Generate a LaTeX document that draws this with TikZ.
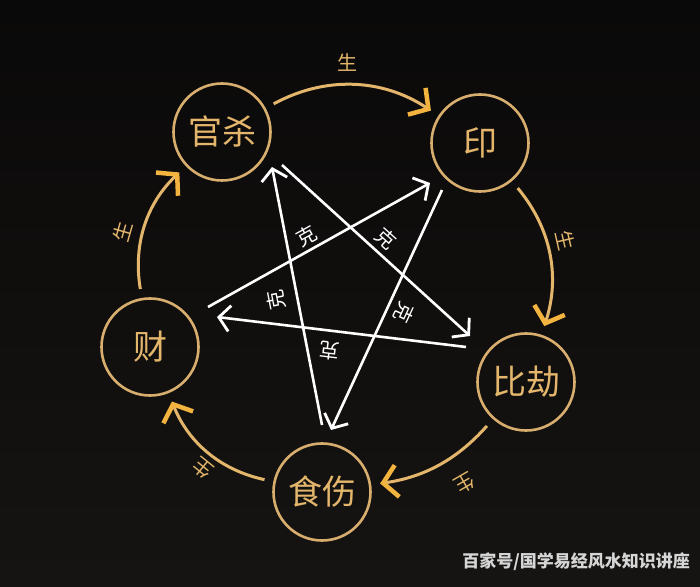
\documentclass[tikz,border=0pt]{standalone}
\usepackage{fontspec}
\setmainfont{Noto Sans CJK SC}
\usetikzlibrary{arrows.meta}
\definecolor{bgtop}{HTML}{0A0909}
\definecolor{bgbot}{HTML}{161412}
\definecolor{ring}{HTML}{D8AE6E}
\definecolor{gold}{HTML}{E3B66C}
\definecolor{tipgold}{HTML}{F2B43E}
\definecolor{wmgray}{HTML}{D6D6D6}
\begin{document}
\begin{tikzpicture}[x=1pt,y=1pt,
  elem/.style={circle, draw=ring, line width=2.6pt, minimum size=97pt, inner sep=0pt, text=gold, font=\fontsize{34}{34}\selectfont},
  sheng/.style={draw=gold, line width=3pt, shorten <=9pt, shorten >=9pt, -{Straight Barb[length=14pt,width=32pt,line width=4.5pt,color=tipgold]}},
  shenglbl/.style={text=gold, font=\fontsize{20}{20}\selectfont, inner sep=0pt},
  ke/.style={draw=white, line width=2.6pt, -{Straight Barb[length=11pt,width=26pt,line width=2.8pt]}},
  kelbl/.style={text=white, font=\fontsize{20}{20}\selectfont, inner sep=0pt},
]
\useasboundingbox (0,0) rectangle (700,586);
\shade[top color=bgtop, bottom color=bgbot] (0,0) rectangle (700,586);

% elements
\node[elem] (gs) at (222,454) {官杀};
\node[elem] (yin) at (480,443) {印};
\node[elem] (bj) at (526,204) {比劫};
\node[elem] (cai) at (150,239) {财};
\node[elem] (ss) at (322,94) {食伤};

% generating cycle
\draw[sheng] (gs) to[bend left=31] (yin);
\draw[sheng] (yin) to[bend left=29] (bj);
\draw[sheng] (bj) to[bend left=20] (ss);
\draw[sheng] (ss) to[bend left=28] (cai);
\draw[sheng] (cai) to[bend left=28] (gs);

\node[shenglbl] (s1) at (347,523) {生};
\node[shenglbl, rotate=-77] (s2) at (565,346) {生};
\node[shenglbl, rotate=-150] (s3) at (465,103) {生};
\node[shenglbl, rotate=141] (s4) at (203,118) {生};
\node[shenglbl, rotate=74] (s5) at (123,354) {生};

% controlling star
\coordinate (a0) at (322,161); \coordinate (a1) at (272,419);
\coordinate (b0) at (282,421); \coordinate (b1) at (470,250);
\coordinate (c0) at (208,279); \coordinate (c1) at (430,403);
\coordinate (d0) at (466,239); \coordinate (d1) at (217,269);
\coordinate (e0) at (442,396); \coordinate (e1) at (331,156);
\draw[ke] (a0) -- (a1);
\draw[ke] (b0) -- (b1);
\draw[ke] (c0) -- (c1);
\draw[ke] (d0) -- (d1);
\draw[ke] (e0) -- (e1);

\node[kelbl, rotate=29] (k1) at (307,350) {克};
\node[kelbl, rotate=-42] (k2) at (386,347) {克};
\node[kelbl, rotate=101] (k3) at (276,286) {克};
\node[kelbl, rotate=-115] (k4) at (404,273) {克};
\node[kelbl, rotate=173] (k5) at (330,235) {克};

% watermark
\node[text=wmgray, font=\fontsize{17}{17}\selectfont\bfseries, anchor=east, inner sep=0pt] (wm) at (690,24) {百家号/国学易经风水知识讲座};
\end{tikzpicture}
\end{document}
